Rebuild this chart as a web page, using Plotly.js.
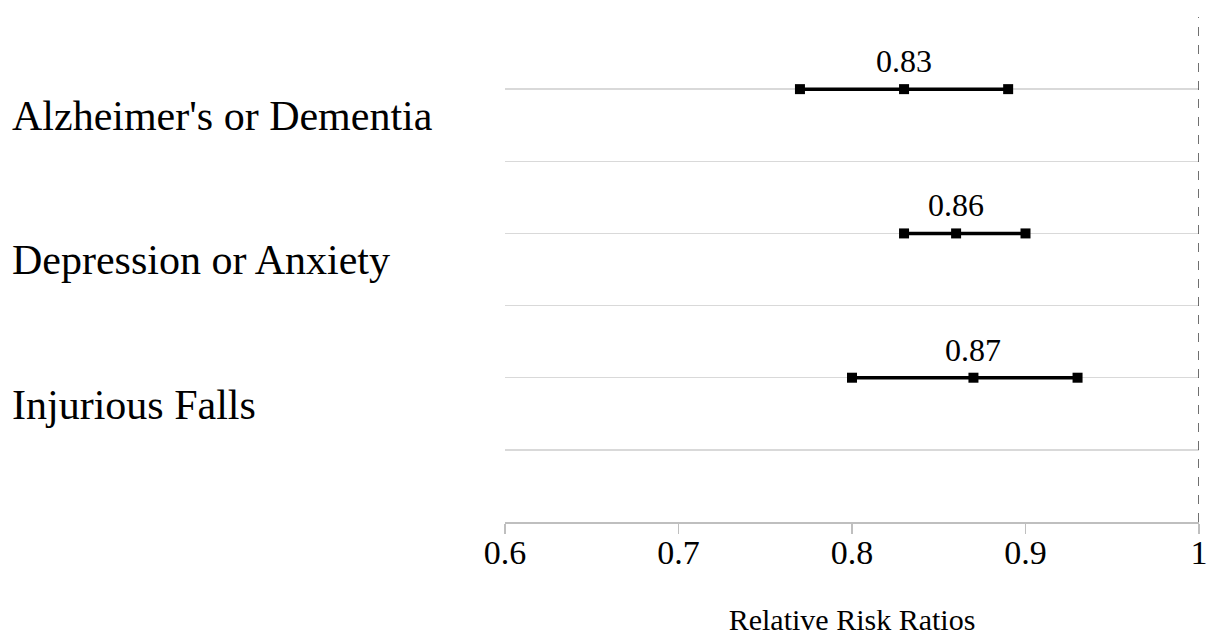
<!DOCTYPE html>
<html>
<head>
<meta charset="utf-8">
<script src="https://cdn.plot.ly/plotly-3.0.1.min.js"></script>
<style>html,body{margin:0;padding:0;background:#fff;}#chart{width:1213px;height:639px;}</style>
</head>
<body>
<div id="chart"></div>
<script>
const categories = ["Alzheimer's or Dementia", "Depression or Anxiety", "Injurious Falls"];
const positions = [6, 4, 2];
const estimates = [0.83, 0.86, 0.87];
const lowerCI = [0.77, 0.83, 0.80];
const upperCI = [0.89, 0.90, 0.93];
const xTicks = [0.6, 0.7, 0.8, 0.9, 1];
const xTickLabels = ["0.6", "0.7", "0.8", "0.9", "1"];

const FONT = "Liberation Serif, Times New Roman, serif";

const traces = categories.map((c, i) => ({
  type: 'scatter',
  mode: 'lines+markers',
  x: [lowerCI[i], estimates[i], upperCI[i]],
  y: [positions[i], positions[i], positions[i]],
  line: {color: '#000', width: 3.5},
  marker: {symbol: 'square', size: 10, color: '#000'},
  hoverinfo: 'skip',
  showlegend: false,
  name: c
}));

const annotations = [];
categories.forEach((c, i) => {
  annotations.push({
    xref: 'paper', yref: 'y', x: 0, y: positions[i],
    xanchor: 'left', yanchor: 'middle',
    xshift: -495, yshift: -27,
    text: c, showarrow: false,
    font: {family: FONT, size: 42, color: '#000'}
  });
  annotations.push({
    xref: 'x', yref: 'y', x: estimates[i], y: positions[i],
    xanchor: 'center', yanchor: 'middle', yshift: 28,
    text: estimates[i].toFixed(2), showarrow: false,
    font: {family: FONT, size: 32, color: '#000'}
  });
});

const layout = {
  width: 1213, height: 639,
  margin: {l: 505, r: 14, t: 17, b: 117},
  paper_bgcolor: '#fff', plot_bgcolor: '#fff',
  showlegend: false,
  xaxis: {
    range: [0.6, 1.0],
    tickvals: xTicks, ticktext: xTickLabels,
    showgrid: false, zeroline: false,
    showline: true, linecolor: '#bfbfbf', linewidth: 1.5,
    ticks: 'outside', ticklen: 10, tickcolor: '#bfbfbf', tickwidth: 1.5,
    ticklabelstandoff: -10,
    tickfont: {family: FONT, size: 34, color: '#000'},
    title: {text: 'Relative Risk Ratios', font: {family: FONT, size: 30, color: '#000'}, standoff: 38},
    fixedrange: true
  },
  yaxis: {
    range: [0, 7],
    tickvals: [1, 2, 3, 4, 5, 6, 7],
    showticklabels: false,
    showgrid: true, gridcolor: '#d9d9d9', gridwidth: 1.5,
    zeroline: false, showline: false, ticks: '',
    fixedrange: true
  },
  shapes: [{
    type: 'line', xref: 'x', yref: 'y', x0: 1, x1: 1, y0: 0, y1: 7,
    line: {color: '#404040', width: 1.5, dash: 'dash'}
  }],
  annotations: annotations
};

Plotly.newPlot('chart', traces, layout, {displayModeBar: false, staticPlot: true});
</script>
</body>
</html>
